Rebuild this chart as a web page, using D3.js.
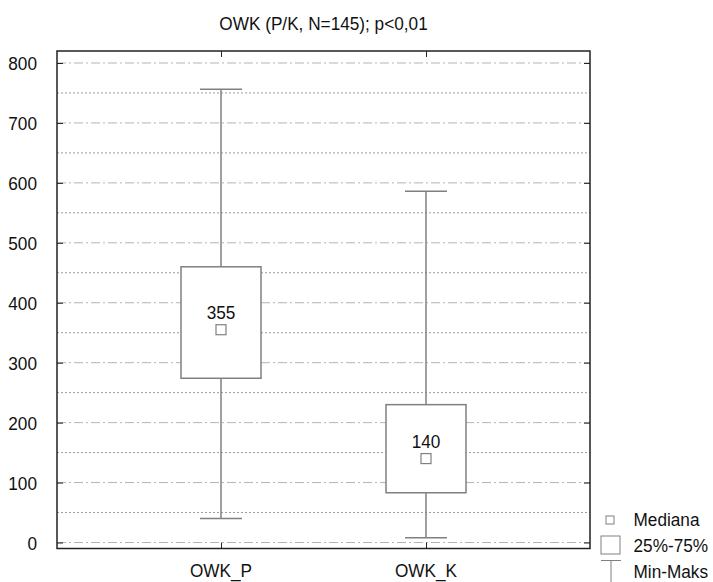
<!DOCTYPE html>
<html><head><meta charset="utf-8">
<script src="https://cdn.jsdelivr.net/npm/d3@7"></script>
<style>body{margin:0;background:#fff}svg{display:block}text{font-family:"Liberation Sans",Arial,sans-serif;fill:#111;font-size:18.5px}</style>
</head><body><svg id="c" width="713" height="582"></svg>
<script>
const categories = ["OWK_P", "OWK_K"];
const minVals = [40, 8];
const q1Vals = [274, 83];
const medianVals = [355, 140];
const q3Vals = [460, 230];
const maxVals = [756, 586];
const yTicks = [0, 100, 200, 300, 400, 500, 600, 700, 800];
const minorGrid = [50, 150, 250, 350, 450, 550, 650, 750];
const title = "OWK (P/K, N=145); p<0,01";
const legendLabels = ["Mediana", "25%-75%", "Min-Maks"];

const svg = d3.select("#c");
const L = 57, R = 590, T = 51, B = 548.5;
const x = d3.scalePoint().domain(categories).range([L, R]).padding(0.8);
const y = d3.scaleLinear().domain([-10, 820]).range([B, T]);
const SX = 0.93;
function txt(parent, px, py, s, anchor) {
  return parent.append("text").attr("transform", `translate(${px},${py}) scale(${SX},1)`)
    .attr("text-anchor", anchor || "start").text(s);
}

// title
txt(svg, (L + R) / 2, 30, title, "middle");

// grid
svg.append("g").selectAll("line").data(yTicks).join("line")
  .attr("x1", L).attr("x2", R).attr("y1", d => y(d)).attr("y2", d => y(d))
  .attr("stroke", "#b4b4b4").attr("stroke-dasharray", "9,3,2,3");
svg.append("g").selectAll("line").data(minorGrid).join("line")
  .attr("x1", L).attr("x2", R).attr("y1", d => y(d)).attr("y2", d => y(d))
  .attr("stroke", "#9a9a9a").attr("stroke-dasharray", "2,2");

// axes (inner ticks)
const tl = 6;
svg.append("g").attr("transform", `translate(${L},0)`)
  .call(d3.axisLeft(y).tickValues(yTicks).tickSize(-tl).tickFormat(""))
  .call(g => g.select(".domain").remove()).selectAll("line").attr("stroke", "#222");
svg.append("g").attr("transform", `translate(${R},0)`)
  .call(d3.axisRight(y).tickValues(yTicks).tickSize(-tl).tickFormat(""))
  .call(g => g.select(".domain").remove()).selectAll("line").attr("stroke", "#222");
svg.append("g").attr("transform", `translate(0,${T})`)
  .call(d3.axisTop(x).tickSize(-tl).tickFormat(""))
  .call(g => g.select(".domain").remove()).selectAll("line").attr("stroke", "#222");
svg.append("g").attr("transform", `translate(0,${B})`)
  .call(d3.axisBottom(x).tickSize(-tl).tickFormat(""))
  .call(g => g.select(".domain").remove()).selectAll("line").attr("stroke", "#222");

// tick labels
const yl = svg.append("g");
yTicks.forEach(d => txt(yl, 37, y(d) + 7.5, d, "end"));
const xl = svg.append("g");
categories.forEach(d => txt(xl, x(d), 576.5, d, "middle"));

// boxes
const bw = 80, cw = 42, col = "#808080";
const g = svg.append("g");
categories.forEach((c, i) => {
  const cx = x(c);
  g.append("line").attr("x1", cx).attr("x2", cx).attr("y1", y(maxVals[i])).attr("y2", y(minVals[i]))
    .attr("stroke", col).attr("stroke-width", 1.5);
  g.append("line").attr("x1", cx - cw / 2).attr("x2", cx + cw / 2).attr("y1", y(maxVals[i])).attr("y2", y(maxVals[i]))
    .attr("stroke", col).attr("stroke-width", 1.5);
  g.append("line").attr("x1", cx - cw / 2).attr("x2", cx + cw / 2).attr("y1", y(minVals[i])).attr("y2", y(minVals[i]))
    .attr("stroke", col).attr("stroke-width", 1.5);
  g.append("rect").attr("x", cx - bw / 2).attr("y", y(q3Vals[i])).attr("width", bw)
    .attr("height", y(q1Vals[i]) - y(q3Vals[i])).attr("fill", "#fff").attr("stroke", col).attr("stroke-width", 1.5);
  g.append("rect").attr("x", cx - 5).attr("y", y(medianVals[i]) - 5).attr("width", 10).attr("height", 10)
    .attr("fill", "#fff").attr("stroke", col).attr("stroke-width", 1.2);
  txt(g, cx, y(medianVals[i]) - 11, medianVals[i], "middle");
});

// frame
svg.append("rect").attr("x", L).attr("y", T).attr("width", R - L).attr("height", B - T)
  .attr("fill", "none").attr("stroke", "#222").attr("stroke-width", 1.5);

// legend
const lg = svg.append("g");
lg.append("rect").attr("x", 606).attr("y", 516).attr("width", 8).attr("height", 8)
  .attr("fill", "#fff").attr("stroke", col);
lg.append("rect").attr("x", 601).attr("y", 536).attr("width", 19).attr("height", 18)
  .attr("fill", "#fff").attr("stroke", col);
lg.append("line").attr("x1", 601).attr("x2", 621).attr("y1", 560.5).attr("y2", 560.5).attr("stroke", col);
lg.append("line").attr("x1", 611).attr("x2", 611).attr("y1", 560).attr("y2", 582).attr("stroke", col);
const ly = [525.7, 551.7, 577.7];
legendLabels.forEach((d, i) => txt(lg, 633.5, ly[i], d));
</script></body></html>
